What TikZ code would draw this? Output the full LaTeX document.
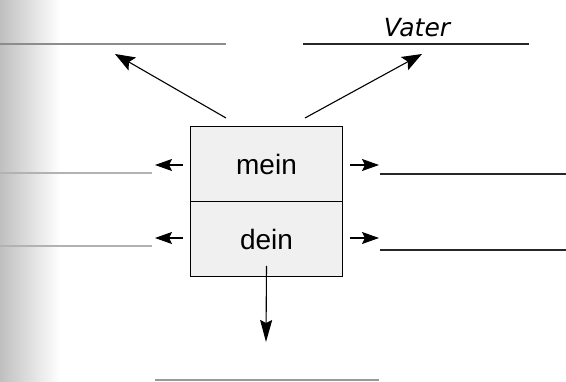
\documentclass[tikz,border=0pt]{standalone}
\usepackage{fontspec}
\setmainfont{Liberation Sans}
\newfontfamily\vaterfont{DejaVu Sans}
\usetikzlibrary{arrows.meta}
\begin{document}
\begin{tikzpicture}[x=1pt,y=-1pt,
  blank/.style={line width=1.1pt,draw=black!85},
  fadeblank/.style={line width=1.1pt,draw=black!45},
  arr/.style={line width=1.1pt,-{Stealth[length=20pt,width=15pt,inset=4pt]}},
  downarr/.style={line width=1.1pt,-{Stealth[length=22pt,width=12pt,inset=3pt]}},
  small/.style={line width=1.1pt,-{Stealth[length=17pt,width=12pt,inset=3pt]}},
  cell/.style={draw,line width=1pt,fill=black!6,minimum width=152pt,minimum height=75pt,inner sep=0pt,font=\fontsize{28}{30}\selectfont}]
\useasboundingbox (0,0) rectangle (566,382);
\shade[left color=black!25,right color=white] (0,0) rectangle (60,382);
% box
\node[cell,anchor=north west] (mein) at (190,126) {mein};
\node[cell,anchor=north west] (dein) at (190,201) {dein};
% top blanks
\coordinate (tl1) at (0,44); \coordinate (tl2) at (226,44);
\coordinate (tr1) at (303,44); \coordinate (tr2) at (529,44);
\draw[fadeblank] (tl1) -- (tl2);
\draw[blank] (tr1) -- (tr2);
\node[font=\vaterfont\itshape\fontsize{25}{28}\selectfont,anchor=base] (vater) at (417,37) {Vater};
% diagonal arrows
\coordinate (la) at (115,54); \coordinate (ra) at (422,54);
\draw[arr] (mein.north west) ++(36,-8) coordinate (lt) (lt) -- (la);
\draw[arr] (mein.north east) ++(-38,-8) coordinate (rt) (rt) -- (ra);
% side arrows mein
\coordinate (ml1) at (183,165); \coordinate (ml2) at (155,165);
\draw[small] (ml1) -- (ml2);
\coordinate (mr1) at (350,165); \coordinate (mr2) at (379,165);
\draw[small] (mr1) -- (mr2);
\coordinate (mlb1) at (0,173); \coordinate (mlb2) at (152,173);
\draw[fadeblank,draw=black!30] (mlb1) -- (mlb2);
\coordinate (mrb1) at (380,174); \coordinate (mrb2) at (566,174);
\draw[blank] (mrb1) -- (mrb2);
% side arrows dein
\coordinate (dl1) at (183,238); \coordinate (dl2) at (155,238);
\draw[small] (dl1) -- (dl2);
\coordinate (dr1) at (350,238); \coordinate (dr2) at (379,238);
\draw[small] (dr1) -- (dr2);
\coordinate (dlb1) at (0,246); \coordinate (dlb2) at (152,246);
\draw[fadeblank,draw=black!30] (dlb1) -- (dlb2);
\coordinate (drb1) at (380,250); \coordinate (drb2) at (566,250);
\draw[blank] (drb1) -- (drb2);
% down arrow
\coordinate (dn) at (266,342);
\draw[downarr] ([yshift=11pt]dein.south) -- (dn);
\coordinate (b1) at (155,380); \coordinate (b2) at (379,380);
\draw[blank,draw=black!40] (b1) -- (b2);
\end{tikzpicture}
\end{document}
